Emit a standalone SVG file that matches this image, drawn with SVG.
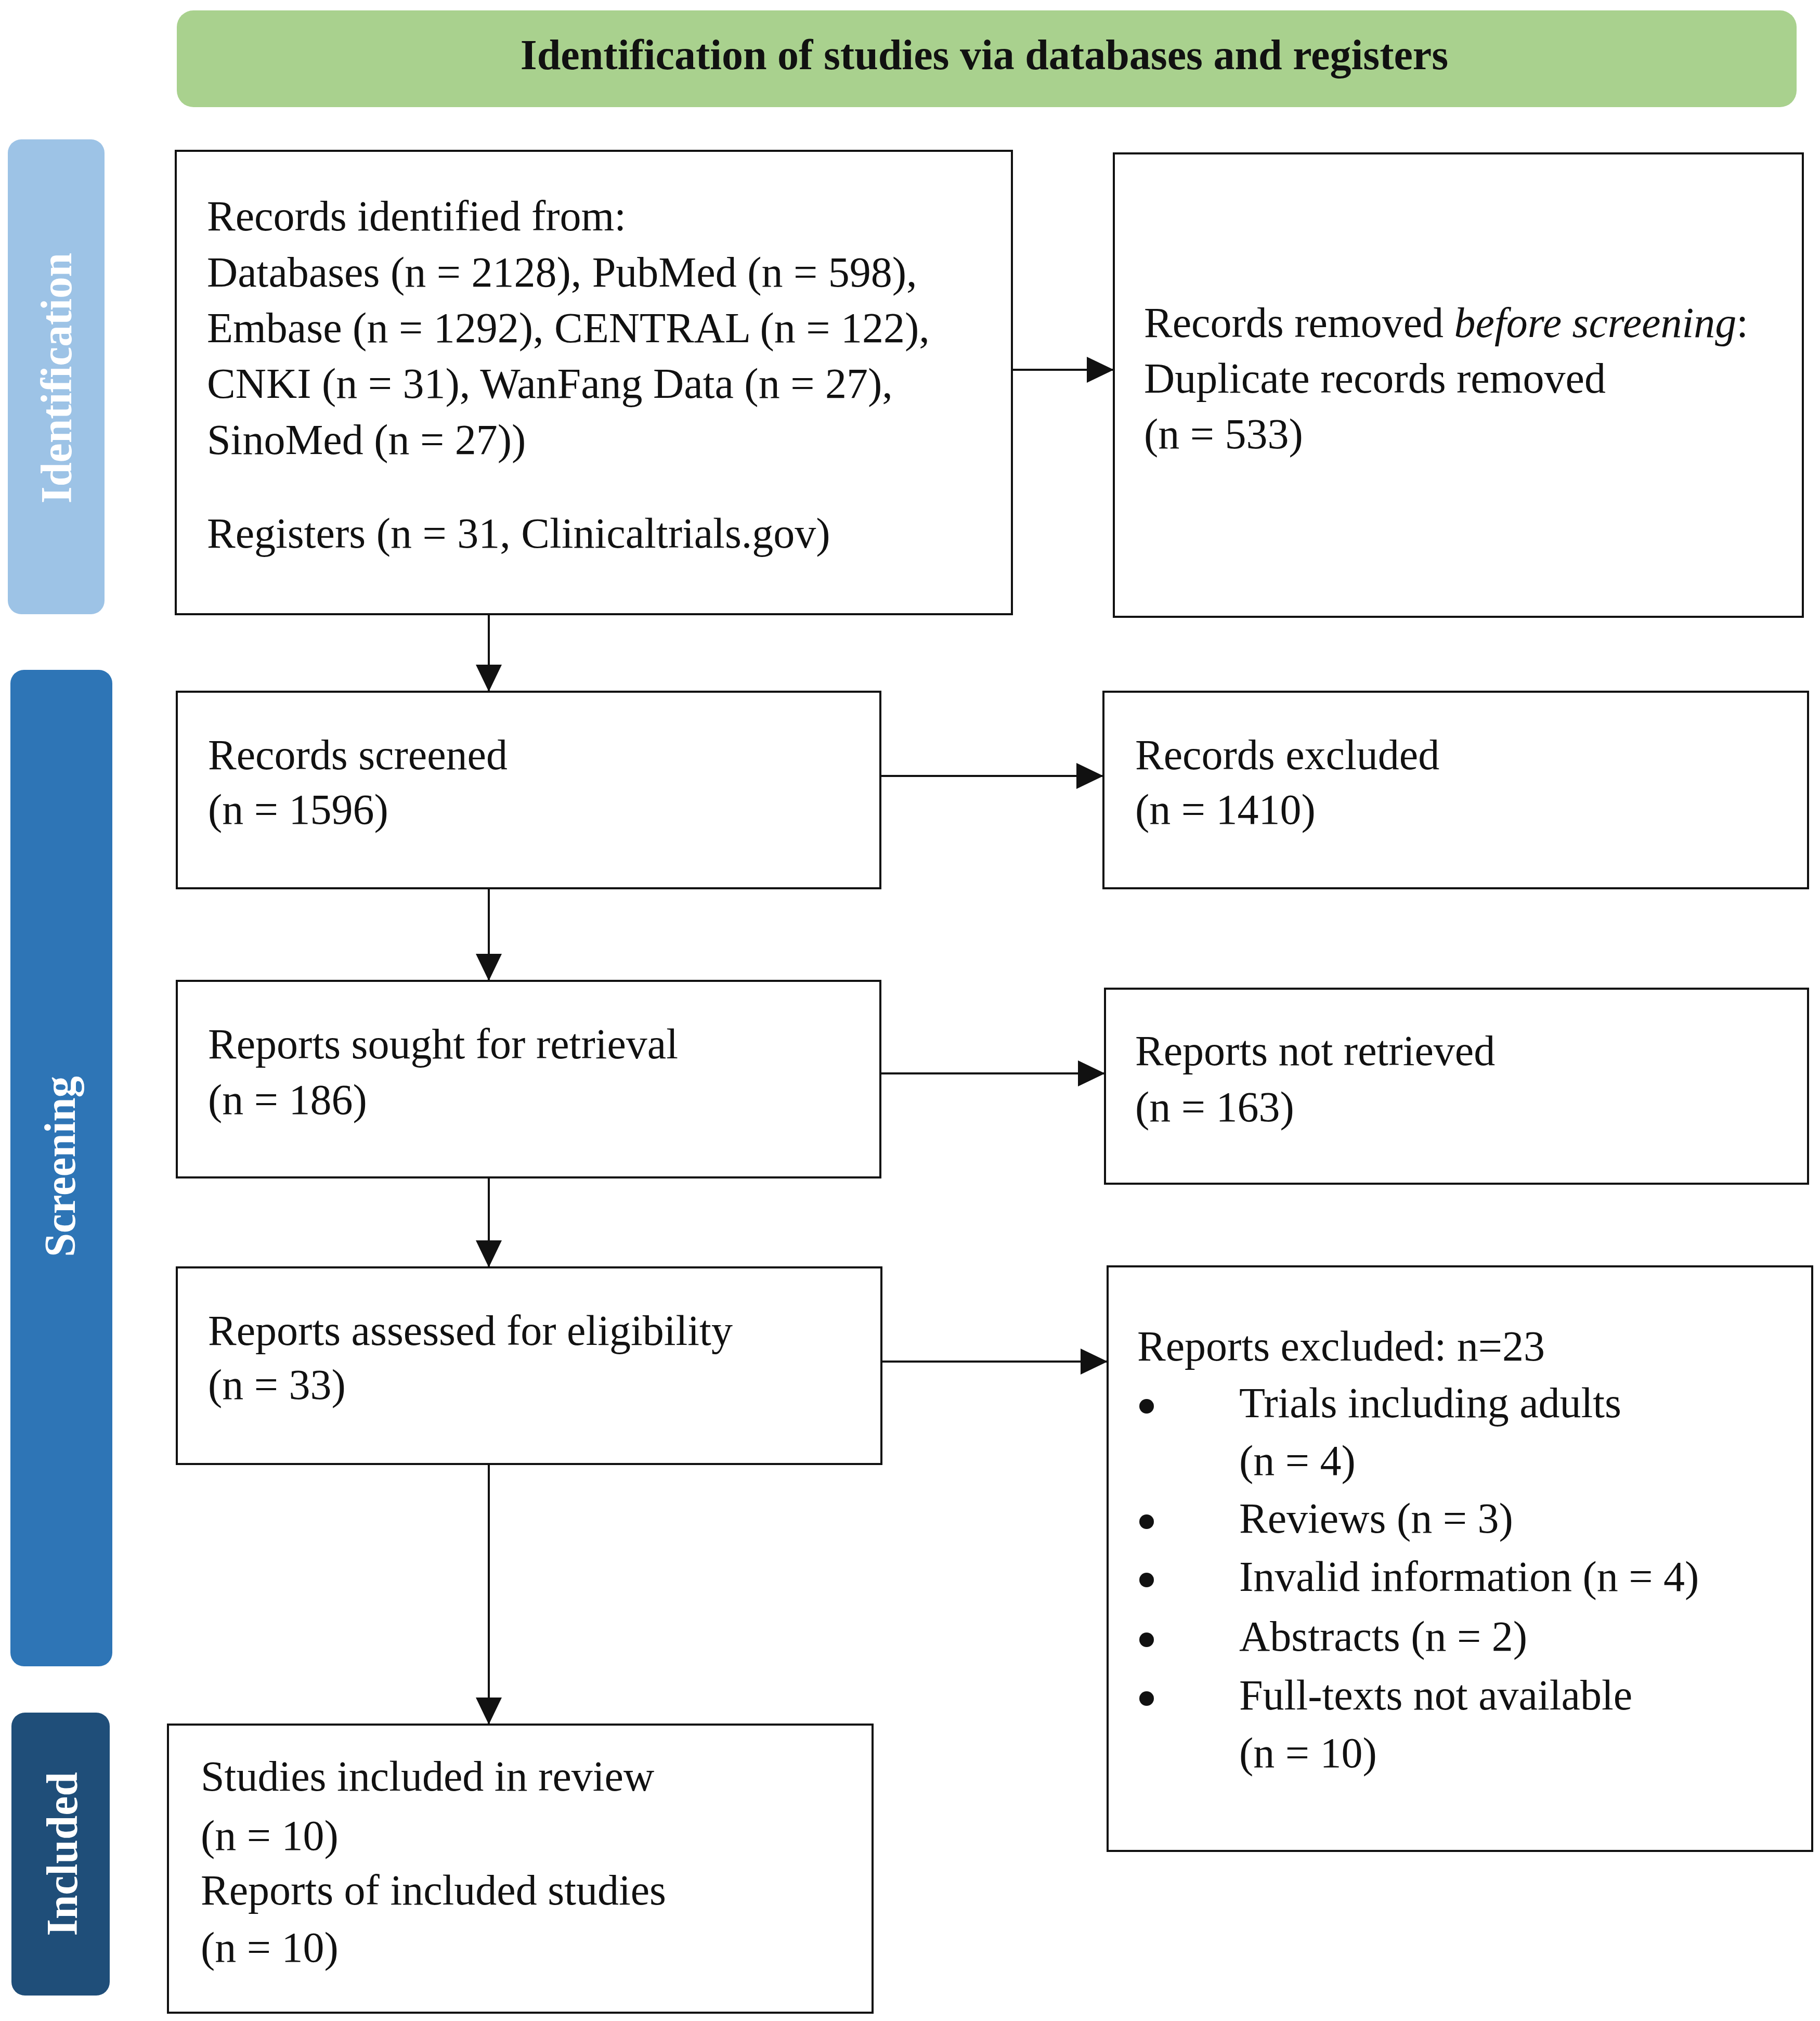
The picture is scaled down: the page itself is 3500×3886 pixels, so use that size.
<svg xmlns="http://www.w3.org/2000/svg" width="3500" height="3886" viewBox="0 0 3500 3886">
<style>
.box{fill:#ffffff;stroke:#111111;stroke-width:4}
.t{font-family:"Liberation Serif","Times New Roman",serif;font-size:82px;fill:#111111}
.side{font-family:"Liberation Serif","Times New Roman",serif;font-size:84px;font-weight:bold;fill:#ffffff}
.title{font-family:"Liberation Serif","Times New Roman",serif;font-size:82px;font-weight:bold;fill:#111111}
.bul{fill:#111111}
.conn{stroke:#111111;stroke-width:4;fill:none;marker-end:url(#ah)}
</style>
<defs>
<marker id="ah" markerUnits="userSpaceOnUse" markerWidth="52" markerHeight="50" refX="52" refY="25" orient="auto">
<path d="M0,0 L52,25 L0,50 z" fill="#111111"/>
</marker>
</defs>
<rect width="3500" height="3886" fill="#ffffff"/>

<g id="banner">
<rect x="340" y="20" width="3115" height="186" rx="32" fill="#a9d18e"/>
<text class="title" x="1893" y="133" text-anchor="middle">Identification of studies via databases and registers</text>
</g>

<g id="phase-identification">
<rect x="15" y="268" width="186" height="913" rx="26" fill="#9dc3e6"/>
<text class="side" transform="translate(137,727) rotate(-90)" text-anchor="middle" textLength="482" lengthAdjust="spacingAndGlyphs">Identification</text>
</g>
<g id="phase-screening">
<rect x="20" y="1288" width="196" height="1916" rx="26" fill="#2e75b6"/>
<text class="side" transform="translate(144,2243) rotate(-90)" text-anchor="middle" textLength="348" lengthAdjust="spacingAndGlyphs">Screening</text>
</g>
<g id="phase-included">
<rect x="22" y="3293" width="189" height="544" rx="26" fill="#1f4e79"/>
<text class="side" transform="translate(148,3565) rotate(-90)" text-anchor="middle" textLength="315" lengthAdjust="spacingAndGlyphs">Included</text>
</g>

<g id="records-identified">
<rect class="box" x="338" y="290" width="1608" height="891"/>
<text class="t" x="398" y="443">Records identified from:</text>
<text class="t" x="398" y="551">Databases (n = 2128), PubMed (n = 598),</text>
<text class="t" x="398" y="658">Embase (n = 1292), CENTRAL (n = 122),</text>
<text class="t" x="398" y="765">CNKI (n = 31), WanFang Data (n = 27),</text>
<text class="t" x="398" y="873">SinoMed (n = 27))</text>
<text class="t" x="398" y="1053">Registers (n = 31, Clinicaltrials.gov)</text>
</g>

<g id="records-removed">
<rect class="box" x="2142" y="295" width="1325" height="891"/>
<text class="t" x="2200" y="648">Records removed <tspan font-style="italic">before screening</tspan>:</text>
<text class="t" x="2200" y="755">Duplicate records removed</text>
<text class="t" x="2200" y="862">(n = 533)</text>
</g>

<g id="records-screened">
<rect class="box" x="340" y="1330" width="1353" height="378"/>
<text class="t" x="400" y="1479">Records screened</text>
<text class="t" x="400" y="1584">(n = 1596)</text>
</g>

<g id="records-excluded">
<rect class="box" x="2122" y="1330" width="1355" height="378"/>
<text class="t" x="2183" y="1479">Records excluded</text>
<text class="t" x="2183" y="1584">(n = 1410)</text>
</g>

<g id="reports-sought">
<rect class="box" x="340" y="1886" width="1353" height="378"/>
<text class="t" x="400" y="2035">Reports sought for retrieval</text>
<text class="t" x="400" y="2142">(n = 186)</text>
</g>

<g id="reports-not-retrieved">
<rect class="box" x="2125" y="1901" width="1352" height="375"/>
<text class="t" x="2183" y="2048">Reports not retrieved</text>
<text class="t" x="2183" y="2156">(n = 163)</text>
</g>

<g id="reports-assessed">
<rect class="box" x="340" y="2437" width="1355" height="378"/>
<text class="t" x="400" y="2586">Reports assessed for eligibility</text>
<text class="t" x="400" y="2690">(n = 33)</text>
</g>

<g id="reports-excluded">
<rect class="box" x="2130" y="2435" width="1355" height="1124"/>
<text class="t" x="2187" y="2616">Reports excluded: n=23</text>
<circle class="bul" cx="2205" cy="2704" r="14"/>
<text class="t" x="2383" y="2725">Trials including adults</text>
<text class="t" x="2383" y="2836">(n = 4)</text>
<circle class="bul" cx="2205" cy="2926" r="14"/>
<text class="t" x="2383" y="2947">Reviews (n = 3)</text>
<circle class="bul" cx="2205" cy="3038" r="14"/>
<text class="t" x="2383" y="3059">Invalid information (n = 4)</text>
<circle class="bul" cx="2205" cy="3153" r="14"/>
<text class="t" x="2383" y="3174">Abstracts (n = 2)</text>
<circle class="bul" cx="2205" cy="3266" r="14"/>
<text class="t" x="2383" y="3287">Full-texts not available</text>
<text class="t" x="2383" y="3398">(n = 10)</text>
</g>

<g id="studies-included">
<rect class="box" x="323" y="3316" width="1355" height="554"/>
<text class="t" x="386" y="3443">Studies included in review</text>
<text class="t" x="386" y="3557">(n = 10)</text>
<text class="t" x="386" y="3662">Reports of included studies</text>
<text class="t" x="386" y="3772">(n = 10)</text>
</g>

<g id="connectors">
<line class="conn" x1="940" y1="1181" x2="940" y2="1330"/>
<line class="conn" x1="940" y1="1708" x2="940" y2="1886"/>
<line class="conn" x1="940" y1="2264" x2="940" y2="2437"/>
<line class="conn" x1="940" y1="2815" x2="940" y2="3316"/>
<line class="conn" x1="1946" y1="711" x2="2142" y2="711"/>
<line class="conn" x1="1693" y1="1492" x2="2122" y2="1492"/>
<line class="conn" x1="1693" y1="2064" x2="2125" y2="2064"/>
<line class="conn" x1="1695" y1="2618" x2="2130" y2="2618"/>
</g>
</svg>
